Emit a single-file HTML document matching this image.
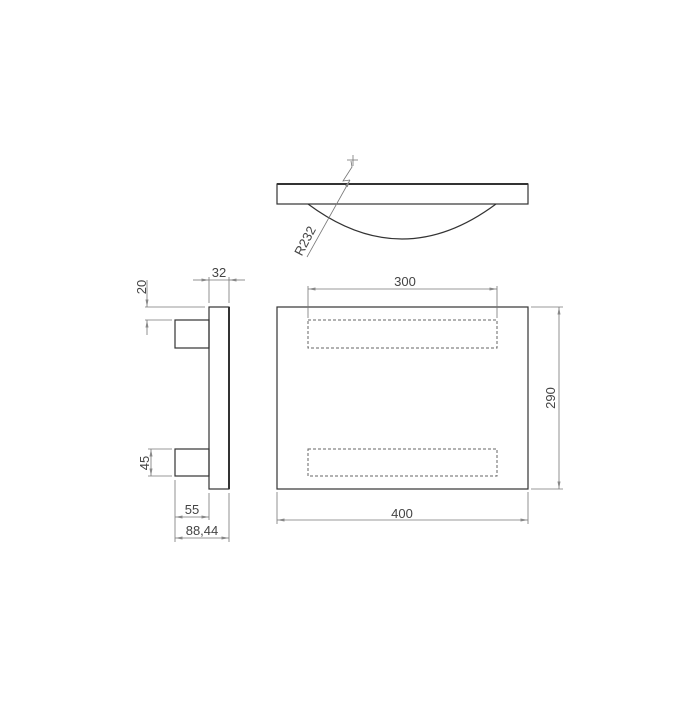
<!DOCTYPE html>
<html><head><style>html,body{margin:0;padding:0;background:#fff;}</style></head><body>
<svg width="700" height="700" viewBox="0 0 700 700" xmlns="http://www.w3.org/2000/svg">
<defs>
<marker id="a" viewBox="0 0 10 4" refX="10" refY="2" markerWidth="8" markerHeight="3" markerUnits="userSpaceOnUse" orient="auto-start-reverse"><path d="M0,0L10,2L0,4z" fill="#888"/></marker>
</defs>
<g fill="none" stroke="#333" stroke-width="1.2">
<rect x="277" y="184" width="251" height="20"/>
<line x1="277" y1="184" x2="528" y2="184" stroke-width="2"/>
<path d="M308,204 Q402,274 496,204"/>
<rect x="209" y="307" width="20" height="182"/>
<line x1="229" y1="307" x2="229" y2="489" stroke-width="2"/>
<rect x="175" y="320" width="34" height="28"/>
<rect x="175" y="449" width="34" height="27"/>
<rect x="277" y="307" width="251" height="182"/>
</g>
<g fill="none" stroke="#666" stroke-width="1" stroke-dasharray="3,2">
<rect x="308" y="320" width="189" height="28"/>
<rect x="308" y="449" width="189" height="27"/>
</g>
<g fill="none" stroke="#777" stroke-width="0.8">
<line x1="307" y1="257" x2="350" y2="180" marker-end="url(#a)"/>
<polyline points="350,180 343,181 352,167 351,161"/>
<line x1="347" y1="160" x2="358" y2="160"/><line x1="353" y1="155" x2="353" y2="166"/>
<line x1="145" y1="307" x2="205" y2="307"/><line x1="145" y1="320" x2="172" y2="320"/>
<line x1="147" y1="280" x2="147" y2="307" marker-end="url(#a)"/>
<line x1="147" y1="335" x2="147" y2="320" marker-end="url(#a)"/>
<line x1="209" y1="277" x2="209" y2="303"/><line x1="229" y1="277" x2="229" y2="303"/>
<line x1="193" y1="280" x2="209" y2="280" marker-end="url(#a)"/>
<line x1="245" y1="280" x2="229" y2="280" marker-end="url(#a)"/>
<line x1="209" y1="280" x2="229" y2="280"/>
<line x1="148" y1="449" x2="172" y2="449"/><line x1="148" y1="476" x2="172" y2="476"/>
<line x1="151" y1="449" x2="151" y2="476" marker-start="url(#a)" marker-end="url(#a)"/>
<line x1="175" y1="480" x2="175" y2="542"/><line x1="209" y1="493" x2="209" y2="520"/><line x1="229" y1="493" x2="229" y2="542"/>
<line x1="175" y1="517" x2="209" y2="517" marker-start="url(#a)" marker-end="url(#a)"/>
<line x1="175" y1="538" x2="229" y2="538" marker-start="url(#a)" marker-end="url(#a)"/>
<line x1="308" y1="286" x2="308" y2="318"/><line x1="497" y1="286" x2="497" y2="318"/>
<line x1="308" y1="289" x2="497" y2="289" marker-start="url(#a)" marker-end="url(#a)"/>
<line x1="531" y1="307" x2="563" y2="307"/><line x1="531" y1="489" x2="563" y2="489"/>
<line x1="559" y1="307" x2="559" y2="489" marker-start="url(#a)" marker-end="url(#a)"/>
<line x1="277" y1="492" x2="277" y2="524"/><line x1="528" y1="492" x2="528" y2="524"/>
<line x1="277" y1="520" x2="528" y2="520" marker-start="url(#a)" marker-end="url(#a)"/>
</g>
<g font-family="Liberation Sans, sans-serif" font-size="13" fill="#444" text-anchor="middle">
<text x="219" y="277">32</text>
<text transform="translate(146,287) rotate(-90)">20</text>
<text transform="translate(149,463) rotate(-90)">45</text>
<text x="192" y="514">55</text>
<text x="202" y="535">88,44</text>
<text x="405" y="286">300</text>
<text transform="translate(555,398) rotate(-90)">290</text>
<text x="402" y="518">400</text>
<text transform="translate(309,243) rotate(-62)">R232</text>
</g>
</svg>
</body></html>
